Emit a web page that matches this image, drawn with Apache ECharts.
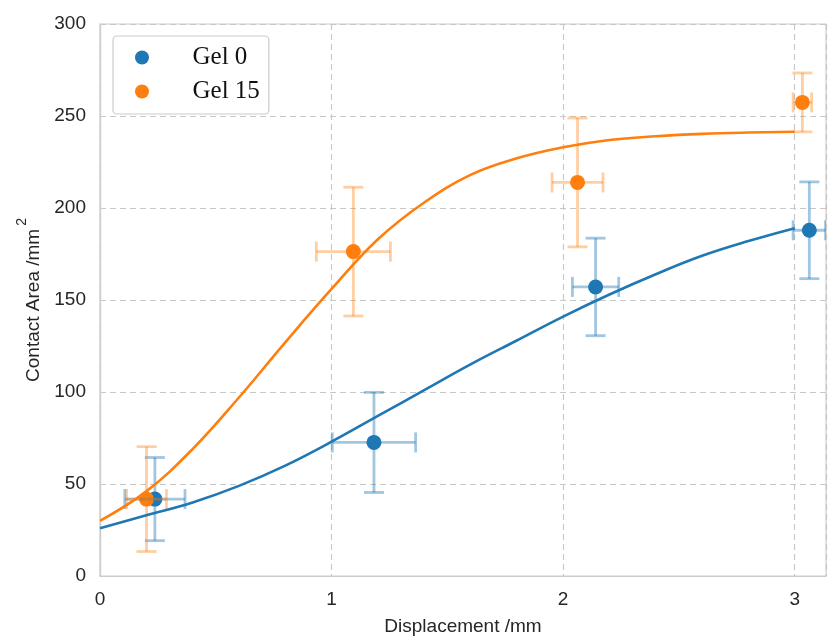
<!DOCTYPE html>
<html>
<head>
<meta charset="utf-8">
<script src="https://cdn.jsdelivr.net/npm/echarts@6/dist/echarts.min.js"></script>
<style>html,body{margin:0;padding:0;background:#fff}#c{width:828px;height:636px}</style>
</head>
<body>
<div id="c"></div>
<script>
// Measured points (mean ± error)
const gel0X = [0.237, 1.183, 2.140, 3.063];
const gel0Y = [41.8, 72.6, 157.1, 187.9];
const gel0Xerr = [0.13, 0.18, 0.10, 0.07];
const gel0Yerr = [22.6, 27.2, 26.5, 26.3];

const gel15X = [0.201, 1.094, 2.062, 3.033];
const gel15Y = [41.8, 176.3, 213.9, 257.4];
const gel15Xerr = [0.086, 0.16, 0.11, 0.04];
const gel15Yerr = [28.5, 35, 35, 16];

// Fitted curves
const fitX = [0, 0.2, 0.4, 0.6, 0.8, 1.0, 1.2, 1.4, 1.6, 1.8, 2.0, 2.2, 2.4, 2.6, 2.8, 3.0];
const fit0Y = [26, 33, 40, 49, 60, 73, 87, 101, 115, 128, 141, 153, 164, 174, 182, 189];
const fit15Y = [30, 46, 69, 97, 127, 156, 183, 203, 218, 227, 233, 237, 239, 240.3, 241, 241.4];

const xTicks = [0, 1, 2, 3];
const yTicks = [0, 50, 100, 150, 200, 250, 300];

const BLUE = '#1f77b4', ORANGE = '#ff7f0e';
const BLUE_ERR = 'rgba(31,119,180,0.42)', ORANGE_ERR = 'rgba(255,127,14,0.38)';

function zip(a, b) { return a.map((v, i) => [v, b[i]]); }
function errRows(x, y, ex, ey) { return x.map((v, i) => [v, y[i], ex[i], ey[i]]); }

function errRender(color) {
  return function (params, api) {
    const x = api.value(0), y = api.value(1), ex = api.value(2), ey = api.value(3);
    const l = api.coord([x - ex, y]), r = api.coord([x + ex, y]);
    const t = api.coord([x, y + ey]), b = api.coord([x, y - ey]);
    const cap = 10;
    const st = { stroke: color, lineWidth: 2.8 };
    const ln = (x1, y1, x2, y2) => ({ type: 'line', shape: { x1, y1, x2, y2 }, style: st });
    return {
      type: 'group',
      children: [
        ln(l[0], l[1], r[0], r[1]),
        ln(t[0], t[1], b[0], b[1]),
        ln(l[0], l[1] - cap, l[0], l[1] + cap),
        ln(r[0], r[1] - cap, r[0], r[1] + cap),
        ln(t[0] - cap, t[1], t[0] + cap, t[1]),
        ln(b[0] - cap, b[1], b[0] + cap, b[1])
      ]
    };
  };
}

const chart = echarts.init(document.getElementById('c'));
const labelColor = '#262626';
chart.setOption({
  animation: false,
  backgroundColor: '#fff',
  grid: { left: 100, right: 2, top: 24, bottom: 60, outerBoundsMode: 'none', containLabel: false,
    show: true, borderColor: '#cccccc', borderWidth: 1.2, backgroundColor: '#fff' },
  legend: {
    data: ['Gel 0', 'Gel 15'],
    orient: 'vertical',
    left: 113, top: 36,
    padding: [9, 9, 10, 22],
    itemGap: 9,
    itemWidth: 25, itemHeight: 14,
    icon: 'circle',
    backgroundColor: '#fff',
    borderColor: '#cccccc', borderWidth: 1.2, borderRadius: 4,
    textStyle: { fontFamily: 'Liberation Serif', fontSize: 25, color: '#111', lineHeight: 24, padding: [0, 0, 0, 33] }
  },
  xAxis: {
    type: 'value', min: 0, max: 3.135, interval: 1,
    name: 'Displacement /mm', nameLocation: 'middle', nameGap: 41,
    nameTextStyle: { fontFamily: 'Liberation Sans', fontSize: 19, color: labelColor },
    axisLine: { show: true, lineStyle: { color: '#cccccc', width: 1.2 } },
    axisTick: { show: false },
    axisLabel: { fontFamily: 'Liberation Sans', fontSize: 19, color: labelColor, margin: 14, showMaxLabel: false,
      formatter: v => (xTicks.indexOf(v) >= 0 ? String(v) : '') },
    splitLine: { show: true, lineStyle: { color: '#c8c8c8', type: [6, 4], width: 1.2 } }
  },
  yAxis: {
    type: 'value', min: 0, max: 300, interval: 50,
    name: '{a|Contact Area /mm}{s|2}', nameLocation: 'middle', nameGap: 55,
    nameTextStyle: {
      color: labelColor,
      rich: {
        a: { fontFamily: 'Liberation Sans', fontSize: 19, color: labelColor, lineHeight: 19, verticalAlign: 'bottom' },
        s: { fontFamily: 'Liberation Sans', fontSize: 14, color: labelColor, verticalAlign: 'top', padding: [0, 0, 0, 3] }
      },
      lineHeight: 28
    },
    axisLine: { show: true, lineStyle: { color: '#cccccc', width: 1.2 } },
    axisTick: { show: false },
    axisLabel: { fontFamily: 'Liberation Sans', fontSize: 19, color: labelColor, margin: 14,
      formatter: v => (yTicks.indexOf(v) >= 0 ? String(v) : '') },
    splitLine: { show: true, lineStyle: { color: '#c8c8c8', type: [6, 4], width: 1.2 } }
  },
  series: [
    { name: 'Gel 0', type: 'scatter', data: zip(gel0X, gel0Y), symbolSize: 15, itemStyle: { color: BLUE, opacity: 1 }, z: 3 },
    { name: 'Gel 15', type: 'scatter', data: zip(gel15X, gel15Y), symbolSize: 15, itemStyle: { color: ORANGE, opacity: 1 }, z: 3 },
    { name: 'err0', type: 'custom', renderItem: errRender(BLUE_ERR), data: errRows(gel0X, gel0Y, gel0Xerr, gel0Yerr), encode: { x: 0, y: 1 }, clip: true, z: 4, silent: true },
    { name: 'err15', type: 'custom', renderItem: errRender(ORANGE_ERR), data: errRows(gel15X, gel15Y, gel15Xerr, gel15Yerr), encode: { x: 0, y: 1 }, clip: true, z: 4, silent: true },
    { name: 'fit0', type: 'line', data: zip(fitX, fit0Y), smooth: 0.4, showSymbol: false, lineStyle: { color: BLUE, width: 2.6 }, itemStyle: { color: BLUE }, z: 5, silent: true },
    { name: 'fit15', type: 'line', data: zip(fitX, fit15Y), smooth: 0.4, showSymbol: false, lineStyle: { color: ORANGE, width: 2.6 }, itemStyle: { color: ORANGE }, z: 5, silent: true }
  ]
});
</script>
</body>
</html>
